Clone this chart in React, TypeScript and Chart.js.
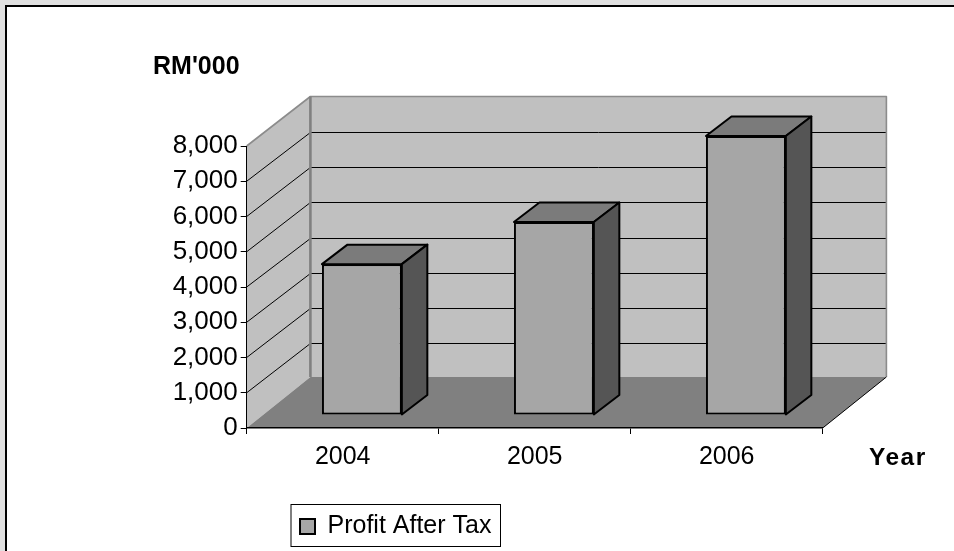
import React, { useEffect, useRef } from "react";
import { Chart, registerables } from "chart.js";

Chart.register(...registerables);

const categories = ["2004", "2005", "2006"];
const seriesLabel = "Profit After Tax";
const profitAfterTax = [4280, 5475, 7915];
const yTitle = "RM'000";
const xTitle = "Year";

const FONT = "'Liberation Sans', Arial, sans-serif";
const WALL = "#c0c0c0";
const FLOOR = "#808080";
const FRONT = "#a6a6a6";
const TOP = "#7b7b7b";
const SIDE = "#555555";

const WALL_DX = 63.7;
const WALL_DY = -49.5;
const FLOOR_DY = -51;
const BAR_DX = 19.2;
const BAR_DY = -13;
const BAR_DEPTH_X = 25.5;
const BAR_DEPTH_Y = -19.5;

function poly(ctx: CanvasRenderingContext2D, pts: number[][], fill?: string, stroke?: string, lw = 1) {
  ctx.beginPath();
  pts.forEach((p, i) => (i ? ctx.lineTo(p[0], p[1]) : ctx.moveTo(p[0], p[1])));
  if (fill) {
    ctx.closePath();
    ctx.fillStyle = fill;
    ctx.fill();
  }
  if (stroke) {
    ctx.strokeStyle = stroke;
    ctx.lineWidth = lw;
    ctx.lineJoin = "round";
    ctx.stroke();
  }
}

const scene3d = {
  id: "scene3d",
  afterLayout(chart: any) {
    const l = chart.legend;
    const w = l.width;
    l.left = 291;
    l.right = 291 + w;
    l.top = 505;
    l.bottom = 505 + l.height;
  },
  beforeDraw(chart: any) {
    const { ctx, chartArea: a, scales } = chart;
    ctx.save();
    // page frame
    ctx.fillStyle = "#e0e0e0";
    ctx.fillRect(0, 0, 954, 551);
    ctx.fillStyle = "#ffffff";
    ctx.fillRect(5, 5, 949, 546);
    ctx.fillStyle = "#000000";
    ctx.fillRect(5, 5, 949, 2);
    ctx.fillRect(5, 5, 2, 546);

    const L = a.left, R = a.right, T = a.top, B = a.bottom;
    const bx = L + WALL_DX;
    // walls
    poly(ctx, [[bx, T + WALL_DY], [R + WALL_DX, T + WALL_DY], [R + WALL_DX, B + FLOOR_DY], [bx, B + FLOOR_DY]], WALL);
    poly(ctx, [[L, T], [bx, T + WALL_DY], [bx, B + FLOOR_DY], [L, B]], WALL);
    // gridlines
    for (const t of scales.y.ticks) {
      if (t.value === 0 || t.value === scales.y.max) continue;
      const y = scales.y.getPixelForValue(t.value);
      const backY = Math.round(y + WALL_DY) + 0.5;
      poly(ctx, [[L, y], [bx, backY], [R + WALL_DX, backY]], undefined, "#000000", 1);
    }
    // wall edges
    poly(ctx, [[L, T], [bx, T + WALL_DY], [R + WALL_DX, T + WALL_DY], [R + WALL_DX, B + FLOOR_DY]], undefined, "#8c8c8c", 1.6);
    poly(ctx, [[bx, T + WALL_DY], [bx, B + FLOOR_DY]], undefined, "#808080", 2.6);
    // floor
    poly(ctx, [[L, B], [bx, B + FLOOR_DY], [R + WALL_DX, B + FLOOR_DY], [R, B]], FLOOR);
    poly(ctx, [[R, B], [R + WALL_DX, B + FLOOR_DY]], undefined, "#000000", 1);
    ctx.restore();
  },
  beforeDatasetsDraw(chart: any) {
    const { ctx } = chart;
    ctx.save();
    ctx.translate(BAR_DX, BAR_DY);
    for (const el of chart.getDatasetMeta(0).data) {
      const { x, y, base, width } = el.getProps(["x", "y", "base", "width"], true);
      const l = x - width / 2, r = x + width / 2;
      poly(ctx, [[l, y], [l + BAR_DEPTH_X, y + BAR_DEPTH_Y], [r + BAR_DEPTH_X, y + BAR_DEPTH_Y], [r, y]], TOP, "#000000", 2);
      poly(ctx, [[r, y], [r + BAR_DEPTH_X, y + BAR_DEPTH_Y], [r + BAR_DEPTH_X, base + BAR_DEPTH_Y], [r, base]], SIDE, "#000000", 2);
    }
  },
  afterDatasetsDraw(chart: any) {
    chart.ctx.restore();
  },
  afterDraw(chart: any) {
    const { ctx } = chart;
    ctx.save();
    ctx.strokeStyle = "#000000";
    ctx.lineWidth = 1;
    ctx.strokeRect(291, 504.5, 209.5, 42);
    ctx.fillStyle = "#000000";
    ctx.textBaseline = "alphabetic";
    ctx.textAlign = "left";
    ctx.font = `bold 25px ${FONT}`;
    ctx.fillText(yTitle, 153, 74);
    ctx.letterSpacing = "1.5px";
    ctx.font = `bold 24.5px ${FONT}`;
    ctx.fillText(xTitle, 869, 465);
    ctx.restore();
  },
};

export default function App() {
  const ref = useRef<HTMLCanvasElement>(null);
  useEffect(() => {
    document.body.style.margin = "0";
    const chart = new Chart(ref.current!, {
      type: "bar",
      data: {
        labels: categories,
        datasets: [
          {
            label: seriesLabel,
            data: profitAfterTax,
            backgroundColor: FRONT,
            borderColor: "#000000",
            borderWidth: 2,
            borderSkipped: false,
            barPercentage: 0.416,
            categoryPercentage: 1,
            clip: false,
          } as any,
        ],
      },
      options: {
        responsive: false,
        animation: false,
        layout: { padding: { left: 146.7, right: 131.3, top: 146, bottom: 63 } },
        plugins: {
          tooltip: { enabled: false },
          legend: {
            position: "chartArea" as any,
            align: "start",
            labels: {
              font: { family: FONT, size: 25 },
              color: "#000000",
              boxWidth: 15,
              boxHeight: 15,
              padding: 9,
            },
          },
        },
        scales: {
          x: {
            afterFit(s: any) {
              s.height = 60;
            },
            grid: { drawOnChartArea: false, color: "#000000", tickLength: 6 },
            border: { color: "#000000", width: 1.5 },
            ticks: { font: { family: FONT, size: 25 }, color: "#000000", padding: 8.5, maxRotation: 0 },
          },
          y: {
            min: 0,
            max: 8000,
            afterFit(s: any) {
              s.width = 100;
            },
            grid: { drawOnChartArea: false, color: "#000000", tickLength: 6 },
            border: { color: "#000000", width: 1 },
            ticks: { font: { family: FONT, size: 26 }, color: "#000000", padding: 3, stepSize: 1000 },
          },
        },
      },
      plugins: [scene3d],
    });
    return () => chart.destroy();
  }, []);
  return <canvas ref={ref} width={954} height={551} style={{ position: "fixed", left: 0, top: 0, display: "block" }} />;
}
